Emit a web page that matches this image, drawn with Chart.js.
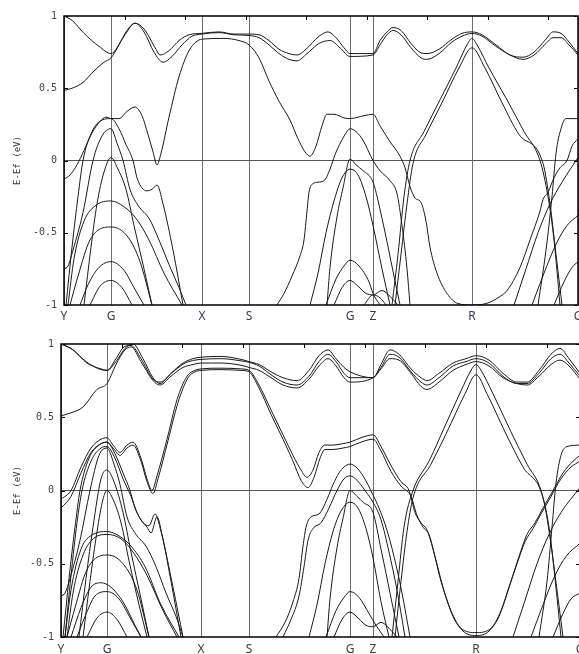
<!doctype html>
<html>
<head>
<meta charset="utf-8">
<title>band structure</title>
<script src="https://cdn.jsdelivr.net/npm/chart.js@4.4.1/dist/chart.umd.min.js"></script>
<style>
  html, body { margin: 0; padding: 0; background: #fff; overflow: hidden; }
  #wrap { position: relative; width: 579px; height: 654px; overflow: hidden; }
  canvas { position: absolute; left: 0; }
  #cTop { top: 0; }
  #cBot { top: 327px; }
</style>
</head>
<body>
<div id="wrap">
  <canvas id="cTop" width="600" height="330"></canvas>
  <canvas id="cBot" width="600" height="330"></canvas>
</div>
<script>
// k-path labels and their positions along the path (same units as band x values)
var kLabels = ["Y", "G", "X", "S", "G", "Z", "R", "G"];
var kTop = [0, 47, 138, 185, 286, 309, 408, 514];
var kBot = [0, 46, 140, 188, 289, 312, 415, 519];
var yTicks = [-1, -0.5, 0, 0.5, 1];
// spacing of the small mirrored tics on the top border
var topTicStep = [60.5, 60.7];

// bands, [k, E-Ef] pairs
var topBands = [
  [[0,1.00],[8,0.97],[20,0.88],[35,0.79],[47,0.74],[60,0.86],[71,0.95],[80,0.91],[92,0.77],[96,0.73],[105,0.76],[115,0.83],[125,0.87],[138,0.88],[155,0.89],[170,0.875],[185,0.875],[195,0.87],[205,0.83],[215,0.77],[225,0.74],[233,0.73],[242,0.77],[255,0.86],[264,0.89],[272,0.85],[280,0.78],[286,0.74],[309,0.74],[316,0.83],[323,0.89],[329,0.92],[337,0.90],[347,0.81],[357,0.745],[363,0.74],[375,0.77],[388,0.84],[398,0.88],[408,0.89],[418,0.87],[432,0.80],[446,0.73],[459,0.715],[470,0.75],[482,0.84],[489,0.89],[497,0.88],[505,0.82],[514,0.74]],
  [[0,0.485],[8,0.50],[19,0.54],[30,0.62],[40,0.68],[47,0.71],[55,0.80],[63,0.90],[71,0.95],[80,0.89],[90,0.75],[99,0.68],[108,0.72],[118,0.80],[128,0.86],[138,0.875],[155,0.885],[170,0.87],[185,0.865],[195,0.85],[205,0.80],[215,0.74],[225,0.70],[233,0.69],[243,0.74],[255,0.81],[266,0.83],[276,0.78],[286,0.72],[309,0.73],[316,0.80],[323,0.87],[329,0.90],[337,0.87],[347,0.78],[357,0.71],[363,0.70],[375,0.74],[388,0.82],[398,0.86],[408,0.88],[418,0.86],[432,0.79],[446,0.73],[459,0.70],[470,0.73],[482,0.81],[489,0.85],[497,0.85],[505,0.80],[514,0.73]],
  [[0,-0.13],[6,-0.10],[13,-0.03],[20,0.07],[28,0.19],[36,0.27],[42,0.30],[47,0.29],[55,0.29],[63,0.34],[71,0.37],[78,0.31],[84,0.18],[89,0.06],[93,-0.03],[97,0.05],[105,0.30],[115,0.58],[125,0.76],[132,0.82],[138,0.84],[160,0.845],[175,0.83],[185,0.80],[195,0.71],[205,0.55],[215,0.41],[226,0.28],[234,0.15],[241,0.06],[246,0.03],[252,0.10],[258,0.24],[263,0.32],[270,0.32],[280,0.295],[286,0.29],[300,0.31],[309,0.32],[316,0.24],[326,0.13],[336,0.03],[341,-0.05],[346,-0.18],[351,-0.26],[357,-0.29],[362,-0.42],[366,-0.60],[373,-0.78],[383,-0.92],[394,-0.99],[408,-1.0],[422,-0.99],[434,-0.95],[443,-0.90],[456,-0.74],[466,-0.55],[476,-0.35],[479,-0.27],[484,-0.22],[490,-0.12],[496,-0.05],[503,0.0],[508,0.1],[514,0.15]],
  [[328,-1.0],[334,-0.65],[340,-0.25],[346,0.0],[360,0.2],[376,0.42],[392,0.64],[403,0.80],[408,0.845],[413,0.80],[425,0.64],[443,0.42],[460,0.2],[476,0.0],[484,-0.25],[490,-0.55],[496,-1.0]],
  [[331,-1.0],[337,-0.65],[343,-0.3],[349,-0.02],[362,0.18],[378,0.40],[395,0.64],[408,0.78],[421,0.64],[438,0.40],[455,0.18],[479,-0.02],[486,-0.3],[492,-0.65],[498,-1.0]],
  [[2,-1.0],[8,-0.6],[14,-0.25],[19,0.0],[28,0.2],[38,0.28],[47,0.29],[55,0.22],[62,0.11],[69,0.0],[73,-0.12],[78,-0.19],[83,-0.21],[88,-0.20],[93,-0.17],[99,-0.30],[109,-0.62],[119,-1.0]],
  [[0,-0.75],[4,-0.73],[9,-0.62],[19,-0.36],[29,0.0],[38,0.17],[47,0.22],[53,0.12],[59,0.0],[66,-0.2],[75,-0.32],[85,-0.40],[95,-0.55],[105,-0.72],[115,-0.88],[122,-1.0]],
  [[20,-1.0],[27,-0.6],[33,-0.3],[40,-0.08],[47,0.02],[54,-0.06],[62,-0.2],[70,-0.45],[80,-0.75],[88,-1.0]],
  [[4,-1.0],[10,-0.68],[20,-0.42],[32,-0.31],[47,-0.28],[60,-0.32],[72,-0.40],[85,-0.55],[100,-0.78],[118,-1.0]],
  [[6,-1.0],[14,-0.8],[26,-0.55],[47,-0.46],[64,-0.53],[76,-0.70],[88,-1.0]],
  [[16,-1.0],[24,-0.86],[35,-0.74],[47,-0.70],[60,-0.76],[70,-0.88],[80,-1.0]],
  [[26,-1.0],[36,-0.87],[47,-0.83],[58,-0.88],[68,-1.0]],
  [[213,-1.0],[220,-0.92],[228,-0.80],[236,-0.66],[240,-0.55],[243,-0.35],[245,-0.22],[249,-0.16],[254,-0.15],[260,-0.14],[266,-0.06],[271,0.04],[277,0.13],[282,0.19],[286,0.22],[292,0.20],[299,0.14],[309,0.0],[316,-0.07],[326,-0.14],[333,-0.23],[338,-0.45],[343,-0.75],[346,-1.0]],
  [[263,-1.0],[266,-0.74],[273,-0.39],[279,-0.19],[286,0.01],[292,-0.03],[299,-0.07],[309,-0.15],[318,-0.40],[330,-0.80],[336,-1.0]],
  [[246,-1.0],[254,-0.78],[262,-0.50],[270,-0.28],[278,-0.12],[286,-0.06],[294,-0.10],[302,-0.25],[309,-0.45],[318,-0.75],[326,-1.0]],
  [[262,-1.0],[272,-0.82],[280,-0.73],[286,-0.69],[295,-0.73],[305,-0.84],[309,-0.92],[316,-1.0]],
  [[270,-1.0],[278,-0.88],[286,-0.83],[294,-0.87],[302,-0.92],[309,-0.93],[318,-0.90],[326,-0.94],[334,-1.0]],
  [[300,-1.0],[309,-0.93],[316,-0.95],[322,-1.0]],
  [[474,-1.0],[482,-0.62],[488,-0.25],[492,0.05],[497,0.22],[502,0.29],[514,0.29]],
  [[450,-1.0],[462,-0.75],[474,-0.50],[486,-0.30],[498,-0.15],[514,0.02]],
  [[468,-1.0],[480,-0.78],[492,-0.58],[503,-0.45],[514,-0.38]],
  [[490,-1.0],[500,-0.84],[508,-0.74],[514,-0.70]]
];

var botBands = [
  [[0,1.0],[10,0.97],[25,0.88],[38,0.83],[46,0.82],[55,0.88],[64,0.97],[72,1.0],[82,0.90],[92,0.77],[99,0.73],[110,0.80],[122,0.87],[132,0.90],[140,0.91],[160,0.915],[180,0.895],[188,0.88],[198,0.86],[210,0.81],[222,0.77],[236,0.75],[248,0.82],[258,0.92],[267,0.96],[275,0.90],[283,0.84],[289,0.81],[312,0.77],[320,0.86],[329,0.96],[338,0.93],[350,0.83],[360,0.77],[366,0.75],[378,0.80],[392,0.87],[405,0.90],[415,0.92],[428,0.89],[442,0.80],[456,0.74],[466,0.74],[478,0.82],[490,0.93],[499,0.97],[508,0.90],[519,0.80]],
  [[0,1.0],[12,0.96],[26,0.87],[40,0.83],[46,0.82],[55,0.90],[63,0.98],[70,0.99],[80,0.90],[92,0.76],[99,0.74],[112,0.81],[124,0.87],[134,0.89],[140,0.895],[160,0.90],[180,0.885],[188,0.875],[198,0.85],[210,0.79],[222,0.74],[236,0.72],[248,0.78],[258,0.88],[267,0.93],[275,0.88],[283,0.80],[289,0.77],[312,0.77],[320,0.84],[329,0.93],[338,0.91],[350,0.81],[360,0.74],[366,0.72],[378,0.77],[392,0.85],[405,0.88],[415,0.90],[428,0.87],[442,0.78],[456,0.73],[466,0.73],[478,0.80],[490,0.90],[499,0.93],[508,0.87],[519,0.78]],
  [[0,0.51],[10,0.53],[22,0.57],[36,0.69],[46,0.73],[55,0.86],[64,0.96],[70,0.98],[80,0.88],[92,0.75],[99,0.72],[110,0.78],[122,0.84],[132,0.86],[140,0.87],[160,0.87],[180,0.855],[188,0.84],[198,0.82],[210,0.77],[222,0.72],[236,0.70],[248,0.76],[258,0.85],[267,0.90],[275,0.85],[283,0.77],[289,0.74],[312,0.77],[320,0.83],[329,0.90],[338,0.89],[350,0.80],[360,0.71],[366,0.69],[378,0.74],[392,0.82],[405,0.86],[415,0.88],[428,0.85],[442,0.77],[456,0.73],[466,0.72],[478,0.78],[490,0.86],[499,0.89],[508,0.85],[519,0.76]],
  [[0,-0.06],[10,0.0],[20,0.16],[30,0.29],[40,0.35],[46,0.36],[52,0.31],[59,0.26],[66,0.31],[72,0.33],[80,0.22],[86,0.08],[91,0.0],[96,0.10],[106,0.35],[116,0.62],[126,0.78],[134,0.82],[140,0.83],[160,0.835],[180,0.83],[188,0.82],[198,0.72],[210,0.55],[222,0.38],[232,0.24],[240,0.14],[246,0.09],[252,0.14],[258,0.26],[264,0.31],[272,0.31],[282,0.32],[289,0.33],[300,0.36],[312,0.38],[320,0.30],[330,0.17],[340,0.06],[348,0.0],[354,-0.15],[360,-0.22],[366,-0.27],[372,-0.40],[380,-0.62],[390,-0.82],[400,-0.94],[415,-0.97],[430,-0.94],[440,-0.82],[450,-0.62],[458,-0.45],[466,-0.30],[474,-0.22],[482,-0.12],[492,0.0],[502,0.12],[512,0.20],[519,0.24]],
  [[0,-0.12],[10,-0.04],[20,0.12],[30,0.26],[40,0.32],[46,0.33],[52,0.29],[59,0.24],[66,0.29],[72,0.31],[80,0.20],[86,0.06],[92,-0.02],[97,0.08],[107,0.34],[117,0.60],[127,0.77],[134,0.81],[140,0.82],[160,0.825],[180,0.82],[188,0.81],[198,0.70],[210,0.52],[222,0.35],[232,0.20],[240,0.07],[247,0.02],[253,0.09],[259,0.22],[264,0.28],[272,0.28],[282,0.29],[289,0.30],[300,0.33],[312,0.35],[320,0.27],[330,0.13],[340,0.03],[350,-0.04],[356,-0.17],[362,-0.25],[368,-0.30],[374,-0.45],[382,-0.66],[392,-0.86],[402,-0.96],[415,-0.99],[428,-0.96],[438,-0.86],[448,-0.66],[456,-0.50],[464,-0.35],[472,-0.26],[480,-0.16],[490,-0.04],[500,0.08],[510,0.16],[519,0.20]],
  [[331,-1.0],[337,-0.62],[343,-0.25],[352,0.0],[368,0.2],[384,0.44],[400,0.68],[410,0.82],[415,0.86],[420,0.82],[432,0.66],[450,0.40],[466,0.18],[480,0.0],[488,-0.25],[494,-0.6],[500,-1.0]],
  [[334,-1.0],[340,-0.62],[346,-0.28],[352,-0.05],[370,0.18],[386,0.40],[404,0.66],[415,0.79],[426,0.66],[444,0.40],[462,0.16],[482,-0.05],[489,-0.32],[496,-0.68],[502,-1.0]],
  [[2,-1.0],[8,-0.6],[14,-0.25],[19,0.0],[28,0.22],[38,0.31],[46,0.33],[54,0.25],[62,0.12],[69,0.0],[74,-0.12],[80,-0.20],[86,-0.25],[90,-0.29],[96,-0.18],[101,-0.30],[110,-0.62],[120,-1.0]],
  [[4,-1.0],[10,-0.58],[16,-0.22],[21,0.0],[30,0.20],[40,0.29],[46,0.30],[54,0.22],[62,0.08],[70,-0.04],[76,-0.15],[82,-0.22],[88,-0.24],[94,-0.16],[100,-0.28],[112,-0.66],[122,-1.0]],
  [[0,-0.72],[4,-0.70],[9,-0.60],[19,-0.34],[29,0.0],[38,0.24],[46,0.29],[53,0.18],[59,0.04],[66,-0.18],[75,-0.30],[85,-0.38],[95,-0.52],[105,-0.70],[115,-0.86],[122,-1.0]],
  [[18,-1.0],[25,-0.6],[32,-0.25],[40,0.08],[46,0.14],[53,0.06],[62,-0.15],[70,-0.42],[80,-0.74],[88,-1.0]],
  [[22,-1.0],[29,-0.62],[36,-0.28],[42,-0.06],[46,0.0],[52,-0.06],[60,-0.22],[68,-0.48],[78,-0.78],[86,-1.0]],
  [[4,-1.0],[10,-0.68],[20,-0.40],[32,-0.30],[46,-0.28],[58,-0.31],[70,-0.38],[84,-0.52],[100,-0.78],[118,-1.0]],
  [[6,-1.0],[12,-0.70],[22,-0.44],[34,-0.32],[46,-0.30],[60,-0.33],[72,-0.42],[86,-0.58],[102,-0.82],[116,-1.0]],
  [[6,-1.0],[14,-0.8],[26,-0.54],[46,-0.44],[62,-0.50],[76,-0.68],[88,-1.0]],
  [[10,-1.0],[20,-0.80],[30,-0.66],[40,-0.63],[50,-0.66],[62,-0.76],[74,-0.92],[80,-1.0]],
  [[16,-1.0],[24,-0.86],[34,-0.72],[46,-0.69],[58,-0.74],[70,-0.88],[80,-1.0]],
  [[26,-1.0],[36,-0.87],[46,-0.83],[56,-0.88],[66,-1.0]],
  [[215,-1.0],[224,-0.90],[232,-0.76],[238,-0.60],[242,-0.38],[245,-0.25],[250,-0.18],[258,-0.16],[266,-0.06],[272,0.04],[278,0.12],[283,0.16],[289,0.18],[295,0.16],[302,0.10],[312,-0.03],[318,-0.12],[325,-0.25],[333,-0.45],[341,-0.7],[349,-1.0]],
  [[222,-1.0],[230,-0.88],[238,-0.72],[243,-0.52],[247,-0.34],[252,-0.26],[260,-0.22],[268,-0.12],[276,0.0],[283,0.08],[289,0.10],[296,0.07],[304,0.0],[312,-0.08],[320,-0.20],[328,-0.42],[336,-0.68],[344,-1.0]],
  [[266,-1.0],[269,-0.74],[276,-0.39],[282,-0.19],[289,0.0],[296,-0.04],[302,-0.08],[312,-0.15],[320,-0.40],[332,-0.80],[338,-1.0]],
  [[248,-1.0],[256,-0.78],[264,-0.50],[272,-0.28],[280,-0.14],[289,-0.08],[297,-0.12],[305,-0.26],[312,-0.46],[320,-0.76],[328,-1.0]],
  [[265,-1.0],[275,-0.82],[283,-0.73],[289,-0.69],[298,-0.73],[308,-0.84],[315,-0.92],[323,-1.0]],
  [[273,-1.0],[281,-0.88],[289,-0.83],[297,-0.87],[305,-0.92],[312,-0.93],[320,-0.90],[328,-0.94],[336,-1.0]],
  [[478,-1.0],[486,-0.62],[491,-0.25],[495,0.05],[500,0.24],[506,0.30],[519,0.31]],
  [[452,-1.0],[464,-0.75],[476,-0.50],[488,-0.30],[500,-0.15],[519,0.02]],
  [[470,-1.0],[482,-0.78],[494,-0.58],[505,-0.45],[519,-0.36]],
  [[492,-1.0],[502,-0.84],[510,-0.74],[519,-0.70]]
];

// black frame round the plot area, with gnuplot-style small inner tics
var framePlugin = {
  id: "frame",
  afterDraw: function(chart, args, opts) {
    var a = chart.chartArea, ctx = chart.ctx;
    var xs = chart.scales.x, ys = chart.scales.y;
    ctx.save();
    ctx.strokeStyle = "#000";
    ctx.lineWidth = 1;
    ctx.beginPath();
    for (var v = opts.step; v < xs.max; v += opts.step) {
      var px = Math.round(xs.getPixelForValue(v)) + 0.5;
      ctx.moveTo(px, a.top);
      ctx.lineTo(px, a.top + 4);
    }
    yTicks.forEach(function(t) {
      var py = Math.round(ys.getPixelForValue(t)) + 0.5;
      ctx.moveTo(a.left, py);
      ctx.lineTo(a.left + 4, py);
      ctx.moveTo(a.right, py);
      ctx.lineTo(a.right - 4, py);
    });
    ctx.stroke();
    ctx.lineWidth = 1.5;
    ctx.strokeRect(a.left, a.top, a.right - a.left, a.bottom - a.top);
    ctx.restore();
  }
};

function makePanel(id, kpos, bands, o) {
  var datasets = bands.map(function(b) {
    return {
      data: b.map(function(p) { return {x: p[0], y: p[1]}; }),
      borderColor: "#1a1a1a",
      borderWidth: 1,
      pointRadius: 0,
      fill: false,
      cubicInterpolationMode: "monotone"
    };
  });

  return new Chart(document.getElementById(id), {
    type: "line",
    data: {datasets: datasets},
    plugins: [framePlugin],
    options: {
      responsive: false,
      animation: false,
      events: [],
      layout: {padding: {top: o.top, right: o.right, left: 0, bottom: 0}},
      plugins: {legend: {display: false}, tooltip: {enabled: false}, frame: {step: o.step}},
      scales: {
        x: {
          type: "linear",
          min: 0,
          max: kpos[kpos.length - 1],
          afterBuildTicks: function(s) { s.ticks = kpos.map(function(v) { return {value: v}; }); },
          afterFit: function(s) { s.height = o.xh; },
          ticks: {
            autoSkip: false,
            maxRotation: 0,
            padding: o.xpad,
            color: "#3a3a48",
            font: {family: "Noto Sans", size: 12},
            callback: function(v, i) { return kLabels[i]; }
          },
          grid: {color: "#6e6e6e", lineWidth: 1, drawTicks: false},
          border: {display: false}
        },
        y: {
          min: -1,
          max: 1,
          afterBuildTicks: function(s) { s.ticks = yTicks.map(function(v) { return {value: v}; }); },
          afterFit: function(s) { s.width = o.left; },
          ticks: {
            padding: 7,
            color: "#444",
            font: {family: "DejaVu Sans Mono", size: 10},
            callback: function(v) { return String(v); }
          },
          grid: {
            drawTicks: false,
            lineWidth: 1,
            color: function(c) { return c.tick && c.tick.value === 0 ? "#555" : "rgba(0,0,0,0)"; }
          },
          border: {display: false},
          title: {
            display: true,
            text: "E-Ef (eV)",
            color: "#333",
            font: {family: "DejaVu Sans Mono", size: 9},
            padding: {top: 12, bottom: 0}
          }
        }
      }
    }
  });
}

makePanel("cTop", kTop, topBands, {top: 16, right: 22, left: 64, xh: 25, xpad: 4, step: topTicStep[0]});
makePanel("cBot", kBot, botBands, {top: 17, right: 20, left: 61, xh: 20, xpad: 5, step: topTicStep[1]});
</script>
</body>
</html>
